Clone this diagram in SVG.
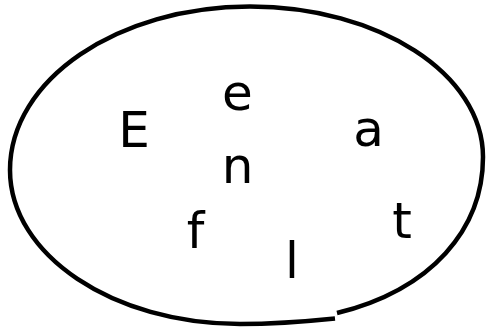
<svg xmlns="http://www.w3.org/2000/svg" width="486" height="328" viewBox="0 0 486 328">
<style>
.lbl{font-family:"DejaVu Sans",sans-serif;font-size:50px;fill:#000;text-anchor:middle}
.outline{fill:none;stroke:#000;stroke-width:4.5}
</style>
<rect width="486" height="328" fill="#fff"/>
<g id="set">
<path class="outline" d="M 337,313 C 432,289.5 483,228.9 483,157 C 483,73.9 378.7,6.5 250,6.5 C 117.4,6.5 10,79.7 10,170 C 10,255 113,324 240,324 C 274.8,324 306,321.5 335,318.5"/>
</g>
<g id="node-E"><text class="lbl" x="134" y="147">E</text></g>
<g id="node-e"><text class="lbl" x="237.5" y="110">e</text></g>
<g id="node-a"><text class="lbl" x="368.5" y="146">a</text></g>
<g id="node-n"><text class="lbl" x="237.5" y="183">n</text></g>
<g id="node-f"><text class="lbl" x="195.5" y="248">f</text></g>
<g id="node-l"><text class="lbl" x="292" y="278">l</text></g>
<g id="node-t"><text class="lbl" x="402" y="238">t</text></g>
<g id="connectors"></g>
</svg>
